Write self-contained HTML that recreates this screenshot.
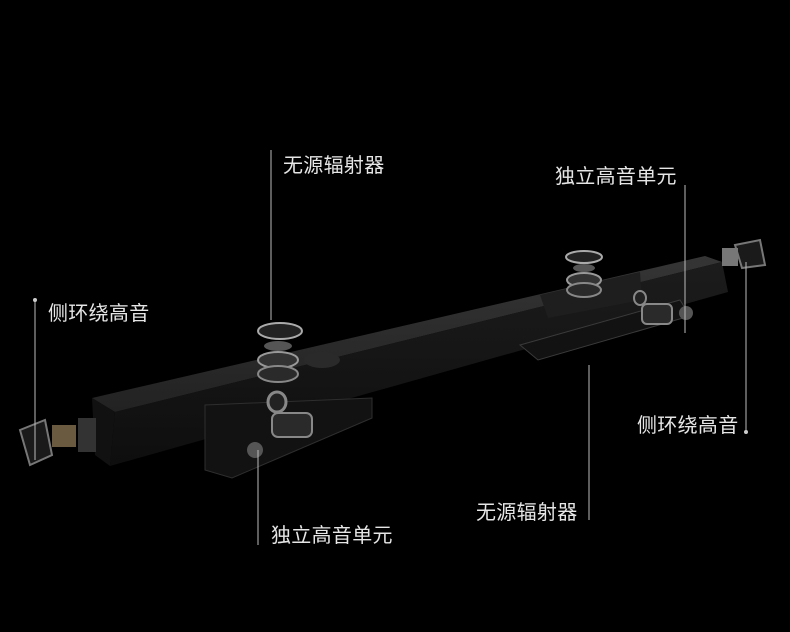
<!DOCTYPE html>
<html><head><meta charset="utf-8"><style>
body{margin:0;background:#000;width:790px;height:632px;overflow:hidden;position:relative;font-family:"Liberation Sans","Noto Sans CJK SC",sans-serif}
.t{position:absolute;color:#e6e6e6;font-size:20px;letter-spacing:0.3px;white-space:nowrap}
svg{position:absolute;left:0;top:0}
</style></head><body>
<svg width="790" height="632">
<defs>
<linearGradient id="tp" x1="0" y1="0" x2="0" y2="1"><stop offset="0" stop-color="#353535"/><stop offset="1" stop-color="#222"/></linearGradient>
<linearGradient id="fr" x1="0" y1="0" x2="0" y2="1"><stop offset="0" stop-color="#1c1c1c"/><stop offset="1" stop-color="#0e0e0e"/></linearGradient>
</defs>
<!-- bar top face -->
<polygon points="92,398 705,256 722,262 115,412" fill="url(#tp)"/>
<!-- front face -->
<polygon points="115,412 722,262 728,292 110,466" fill="url(#fr)"/>
<polygon points="92,398 115,412 110,466 95,455" fill="#111"/>
<!-- lower modules -->
<polygon points="205,405 372,398 372,418 232,478 205,470" fill="#121212" stroke="#2e2e2e" stroke-width="1"/>
<polygon points="520,345 680,300 690,316 538,360" fill="#121212" stroke="#3a3a3a" stroke-width="1"/>
<polygon points="540,295 640,272 642,300 548,318" fill="#1e1e1e"/>
<!-- drivers -->
<ellipse cx="280" cy="331" rx="22" ry="8" fill="#222" stroke="#aaa" stroke-width="2"/>
<ellipse cx="278" cy="346" rx="14" ry="5" fill="#555"/>
<ellipse cx="278" cy="360" rx="20" ry="8" fill="#333" stroke="#999" stroke-width="2"/>
<ellipse cx="278" cy="374" rx="20" ry="8" fill="#2a2a2a" stroke="#888" stroke-width="2"/>
<ellipse cx="322" cy="360" rx="18" ry="8" fill="#2a2a2a"/>
<ellipse cx="584" cy="257" rx="18" ry="6" fill="#222" stroke="#aaa" stroke-width="2"/>
<ellipse cx="584" cy="268" rx="11" ry="4" fill="#555"/>
<ellipse cx="584" cy="280" rx="17" ry="7" fill="#333" stroke="#999" stroke-width="2"/>
<ellipse cx="584" cy="290" rx="17" ry="7" fill="#2a2a2a" stroke="#888" stroke-width="2"/>
<ellipse cx="277" cy="402" rx="9" ry="10" fill="#222" stroke="#888" stroke-width="3"/>
<rect x="272" y="413" width="40" height="24" rx="6" fill="#2a2a2a" stroke="#888" stroke-width="2"/>
<rect x="642" y="304" width="30" height="20" rx="5" fill="#2a2a2a" stroke="#888" stroke-width="2"/>
<ellipse cx="640" cy="298" rx="6" ry="7" fill="#222" stroke="#888" stroke-width="2"/>
<!-- end tweeters -->
<polygon points="20,430 45,420 52,455 30,465" fill="#1a1a1a" stroke="#777" stroke-width="2"/>
<rect x="52" y="425" width="24" height="22" fill="#6a5a40"/>
<rect x="78" y="418" width="18" height="34" fill="#333"/>
<polygon points="735,245 760,240 765,265 742,268" fill="#1a1a1a" stroke="#777" stroke-width="2"/>
<rect x="722" y="248" width="16" height="18" fill="#777"/>
<circle cx="255" cy="450" r="8" fill="#555"/>
<circle cx="686" cy="313" r="7" fill="#555"/>
<!-- leader lines -->
<g stroke="#bbb" stroke-width="1">
<line x1="271" y1="150" x2="271" y2="320"/>
<line x1="685" y1="185" x2="685" y2="333"/>
<line x1="35" y1="300" x2="35" y2="460"/>
<line x1="746" y1="262" x2="746" y2="432"/>
<line x1="589" y1="365" x2="589" y2="520"/>
<line x1="258" y1="450" x2="258" y2="545"/>
</g>
<g fill="#ccc"><circle cx="35" cy="300" r="2"/><circle cx="746" cy="432" r="2"/></g>
</svg>
<div class="t" style="left:283px;top:149px">无源辐射器</div>
<div class="t" style="left:555px;top:160px">独立高音单元</div>
<div class="t" style="left:48px;top:297px">侧环绕高音</div>
<div class="t" style="left:637px;top:409px">侧环绕高音</div>
<div class="t" style="left:476px;top:496px">无源辐射器</div>
<div class="t" style="left:271px;top:519px">独立高音单元</div>
</body></html>
